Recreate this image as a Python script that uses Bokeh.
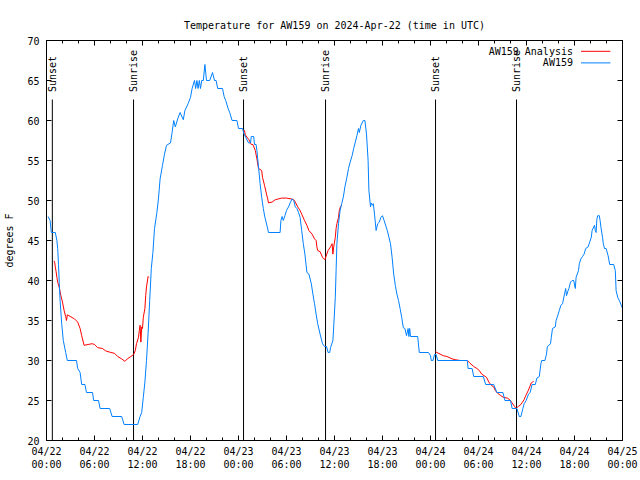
import math
from bokeh.plotting import figure
from bokeh.models import FixedTicker, LinearAxis, Range1d
from bokeh.core.properties import value
from bokeh.embed import file_html
from bokeh.resources import INLINE

# ---------------- data (hours since 2024-04-22 00:00 UTC, degrees F) ----------------
aw159_t = [0.2, 0.45, 0.6, 1.1, 1.3, 1.4, 1.5, 1.6, 1.7, 1.9, 2.1, 2.4, 2.6, 3.75, 3.9, 4.2, 4.4, 4.8,
           5.0, 5.75, 5.9, 6.5, 6.7, 7.9, 8.2, 9.4, 9.7, 11.4, 11.7, 11.9, 12.1, 12.3, 12.5, 12.7,
           12.9, 13.1, 13.3, 13.5, 13.8, 14.0, 14.2, 14.5, 14.75, 15.0, 15.5, 15.7, 15.9, 16.1,
           16.4, 16.7, 17.1, 17.3, 17.7, 18.0, 18.2, 18.5, 18.65, 18.8, 18.95, 19.1, 19.25, 19.4,
           19.6, 19.8, 20.0, 20.4, 20.75, 21.0, 21.2, 21.4, 22.0, 22.2, 22.4, 22.7, 22.9, 23.2,
           23.8, 24.0, 24.5, 24.7, 24.9, 25.25, 25.5, 25.6, 25.9, 26.0, 26.2, 26.3, 26.5, 26.7,
           26.9, 27.1, 27.3, 27.55, 27.75, 29.2, 29.3, 29.45, 29.6, 29.8, 30.0, 30.25, 30.5, 30.7,
           30.9, 31.1, 31.3, 31.5, 31.7, 31.9, 32.1, 32.3, 32.55, 32.8, 33.1, 33.3, 33.5, 33.7,
           33.9, 34.2, 34.5, 34.75, 35.0, 35.2, 35.4, 35.5, 35.8, 35.9, 36.1, 36.2, 36.3, 36.5,
           36.7, 36.9, 37.1, 37.3, 37.55, 37.75, 37.96, 38.2, 38.4, 38.6, 38.8, 39.0, 39.1, 39.3,
           39.6, 39.8, 40.0, 40.2, 40.3, 40.5, 40.6, 40.75, 40.85, 41.0, 41.2, 41.4, 41.6, 41.8,
           42.0, 42.2, 42.6, 43.0, 43.2, 43.4, 43.6, 43.8, 44.0, 44.2, 44.4, 44.6, 44.8, 45.0,
           45.2, 45.3, 45.4, 45.5, 46.4, 46.6, 47.75, 48.0, 48.1, 48.3, 48.5, 48.7, 48.9, 52.6,
           52.7, 53.2, 53.4, 54.6, 54.9, 55.9, 56.3, 57.05, 57.3, 58.0, 58.2, 58.8, 59.1, 59.3,
           59.55, 59.7, 59.96, 60.25, 60.46, 60.7, 61.1, 61.3, 61.6, 61.8, 61.9, 62.3, 62.5, 62.6,
           63.0, 63.1, 63.25, 63.6, 63.7, 63.9, 64.1, 64.3, 64.5, 64.75, 64.9, 65.0, 65.2, 65.3,
           65.5, 65.7, 65.9, 66.1, 66.2, 66.5, 66.6, 66.8, 67.0, 67.2, 67.4, 67.7, 67.9, 68.1,
           68.2, 68.5, 68.6, 68.7, 68.8, 68.9, 69.1, 69.2, 69.3, 69.5, 69.6, 69.75, 69.95, 70.2,
           70.4, 70.9, 71.1, 71.2, 71.4, 71.6, 71.85, 72.0]
aw159_v = [48, 47.5, 46, 46, 45, 44, 42, 39.6, 37.5, 34.6, 32.5, 31, 30, 30, 29, 28.5, 27, 27,
           26, 26, 25, 25, 24, 24, 23, 23, 22, 22, 23, 23.5, 25.4, 27.3, 30, 33.4,
           37.5, 41.5, 43.5, 46.5, 48.5, 50.3, 52.7, 54.4, 55.8, 56.9, 57.2, 58.5, 60, 59.2,
           60.2, 61, 60.1, 61.25, 62.1, 62.9, 64, 65, 64, 65, 64, 65, 64, 65,
           65, 67, 65, 65, 66, 65, 65, 64, 64, 63, 62.5, 61.5, 61, 60,
           60, 59, 59, 58.3, 57.9, 57.2, 57.2, 58, 58, 57, 57, 56.25, 54.2, 52.1,
           50.4, 49, 47.9, 46.9, 46, 46, 47.5, 48, 47.5, 48.1, 48.75, 49.2, 49.8, 50.2,
           50, 49.2, 49, 48.5, 47.9, 46.25, 44.6, 43.3, 41, 40.8, 39.6, 38.3, 37.1, 35.8,
           34.6, 33.3, 32.1, 31.75, 31.75, 31, 31, 31.6, 32.5, 34.2, 37.9, 41.25, 44.6, 47.1,
           48.75, 49.6, 50.4, 51.7, 52.9, 54, 54.8, 55.6, 56.5, 57.3, 58.1, 59, 58.5, 59.4,
           60, 60, 58.3, 55, 51.25, 49.2, 49.7, 49.4, 49.6, 48.3, 46.25, 47.1, 47.3, 47.9,
           48.1, 47.5, 46.25, 44.6, 42.9, 40.8, 39.4, 38.3, 37.5, 36.5, 35.4, 34.1, 34, 33.1,
           34, 33, 34, 33, 33, 31, 31, 30.6, 30, 30, 30.75, 30.75, 30, 30,
           29, 29, 28, 28, 27, 27, 26, 26, 25, 25, 24, 24, 23, 23,
           24, 24.6, 25, 25.8, 26, 27, 27, 27.8, 28, 29.6, 30, 30, 30.8, 31.7,
           32.1, 32.9, 34, 34.2, 35, 35.6, 36.25, 36.9, 37.1, 38.3, 39, 38.1, 38.75, 39,
           39.8, 40, 40, 39, 40.4, 41.25, 42.1, 42.7, 43, 43.3, 44, 44.2, 44.8, 45.4,
           46.25, 46.9, 46.25, 46, 47.7, 48.1, 48.1, 47.5, 46.7, 45.4, 44.6, 44, 44, 43.1,
           42, 42, 41.25, 38.75, 37.9, 37.5, 36.9, 36.5]

# AW159 Analysis: three night-time segments
ana1_t = [0.9, 1.0, 1.1, 1.2, 1.3, 1.4, 1.6, 1.8, 2.0, 2.2, 2.4, 2.5, 2.6, 2.8, 3.5, 3.9, 4.2,
          4.4, 4.7, 5.2, 5.7, 6.0, 6.4, 7.0, 7.4, 8.05, 8.5, 8.9, 9.4, 9.8, 10.1, 10.55, 10.9,
          11.1, 11.25, 11.5, 11.6, 11.7, 11.8, 11.9, 12.0, 12.1, 12.3, 12.4, 12.5, 12.7, 12.8]
ana1_v = [42.4, 42.4, 41.7, 41.1, 40.4, 39.8, 39.1, 38.1, 37.3, 36.25, 35.5, 35, 35.7, 35.6, 35.2,
          34.8, 34.0, 33.1, 31.9, 32.0, 32.1, 32.0, 31.6, 31.5, 31.2, 31.0, 30.9, 30.5, 30.2, 29.9,
          30.2, 30.5, 30.75, 31.25, 32.1, 32.9, 33.75, 34.4, 32.3, 34.2, 34.0, 35.4, 36.5, 38.1,
          39.2, 40.5, 40.4]
ana2_t = [24.6, 24.75, 24.85, 25.3, 25.6, 25.8, 26.1, 26.3, 26.5, 26.9, 27.0, 27.25, 27.5, 27.65,
          27.75, 28.2, 28.6, 29.4, 30.0, 30.6, 30.9, 31.1, 31.4, 31.7, 31.9, 32.25, 32.55, 32.8,
          33.2, 33.5, 33.7, 33.8, 33.9, 34.2, 34.5, 34.8, 35.0, 35.2, 35.5, 35.7, 35.8, 35.9,
          36.0, 36.1, 36.2, 36.3, 36.5, 36.6, 36.75, 36.9]
ana2_v = [58.75, 58.75, 58.2, 57.6, 57, 57, 56.25, 55.2, 54, 53.75, 52.9, 51.9, 50.8, 50.2,
          49.7, 49.8, 50.1, 50.3, 50.3, 50.2, 50.1, 49.8, 49.2, 48.75, 48.3, 47.5, 46.9, 46.25,
          45.8, 45.2, 45, 44.2, 43.75, 43.6, 42.9, 42.6, 43.2, 43.75, 44.2, 44.6, 43.3, 44.2,
          44.8, 45.4, 46.5, 47.1, 47.9, 48.75, 49.25, 49.4]
ana3_t = [48.6, 48.8, 49.2, 49.6, 50.05, 50.7, 51.1, 51.7, 52.6, 52.9, 53.4, 53.8, 54.1, 54.4,
          54.7, 55.0, 55.3, 55.6, 55.9, 56.1, 56.4, 56.8, 57.1, 57.6, 57.9, 58.2, 58.5, 58.7,
          59.0, 59.2, 59.5, 59.7, 59.9, 60.2, 60.4, 60.6, 60.9]
ana3_v = [31.1, 31.0, 30.8, 30.6, 30.5, 30.2, 30.1, 30, 30, 29.7, 29.25, 29.0, 28.75, 28.3,
          28.1, 27.9, 27.3, 26.9, 26.7, 26.25, 25.9, 25.6, 25.4, 25.3, 25.1, 24.7, 24.25, 24,
          24.3, 24.4, 24.8, 25.1, 25.6, 26.2, 26.7, 27.2, 27.4]

sun_t = [0.73, 10.88, 24.63, 34.88, 48.63, 58.75]
sun_labels = ["Sunset", "Sunrise", "Sunset", "Sunrise", "Sunset", "Sunrise"]

x_tick_hours = [0, 6, 12, 18, 24, 30, 36, 42, 48, 54, 60, 66, 72]
x_tick_labels = ["04/22\n00:00", "04/22\n06:00", "04/22\n12:00", "04/22\n18:00",
                 "04/23\n00:00", "04/23\n06:00", "04/23\n12:00", "04/23\n18:00",
                 "04/24\n00:00", "04/24\n06:00", "04/24\n12:00", "04/24\n18:00",
                 "04/25\n00:00"]
y_ticks = [20, 25, 30, 35, 40, 45, 50, 55, 60, 65, 70]

series_names = ["AW159 Analysis", "AW159"]
series_colors = ["#ff0000", "#0080ff"]

# ---------------- figure ----------------
FONT = "DejaVu Sans Mono"
X0, X1, Y0, Y1 = 0, 72, 20, 70

p = figure(frame_width=576, frame_height=400,
           x_range=Range1d(X0, X1), y_range=Range1d(Y0, Y1),
           output_backend="svg", toolbar_location=None,
           min_border_left=46, min_border_right=18, min_border_top=40, min_border_bottom=38,
           title="Temperature for AW159 on 2024-Apr-22 (time in UTC)")
p.background_fill_color = "white"
p.border_fill_color = "white"
p.outline_line_color = "black"
p.outline_line_width = 1
p.grid.visible = False

p.title.align = "center"
p.title.text_font = FONT
p.title.text_font_size = "10px"
p.title.text_font_style = "normal"
p.title.text_color = "black"
p.title.standoff = 19

xticker = FixedTicker(ticks=x_tick_hours, minor_ticks=list(range(0, 73, 2)))
yticker = FixedTicker(ticks=y_ticks, minor_ticks=[])

p.xaxis.ticker = xticker
p.yaxis.ticker = yticker
p.xaxis.major_label_overrides = {h: lab for h, lab in zip(x_tick_hours, x_tick_labels)}
p.yaxis.axis_label = "degrees F"

top_axis = LinearAxis(ticker=xticker, major_label_overrides={h: "" for h in x_tick_hours})
right_axis = LinearAxis(ticker=yticker, major_label_overrides={v: "" for v in y_ticks})
p.add_layout(top_axis, "above")
p.add_layout(right_axis, "right")

for ax in p.axis:
    ax.major_tick_in = 5
    ax.major_tick_out = 0
    ax.minor_tick_in = 3
    ax.minor_tick_out = 0
    ax.axis_line_color = "black"
    ax.major_tick_line_color = "black"
    ax.minor_tick_line_color = "black"
    ax.major_label_text_font = FONT
    ax.major_label_text_font_size = "10px"
    ax.major_label_text_color = "black"
    ax.axis_label_text_font = FONT
    ax.axis_label_text_font_size = "10px"
    ax.axis_label_text_font_style = "normal"
    ax.axis_label_text_color = "black"

p.xaxis[0].major_label_standoff = 12
p.yaxis[0].major_label_standoff = 7
p.yaxis[0].axis_label_standoff = 9
for ax in (top_axis, right_axis):
    ax.major_label_standoff = 0

# sunrise / sunset markers
line_top = Y0 + 0.8525 * (Y1 - Y0)
label_y = Y0 + 0.871 * (Y1 - Y0)
p.segment(x0=sun_t, y0=[Y0] * len(sun_t), x1=sun_t, y1=[line_top] * len(sun_t),
          line_color="black", line_width=1)
p.text(x=sun_t, y=[label_y] * len(sun_t), text=sun_labels, angle=math.pi / 2,
       text_align="left", text_baseline="middle", text_font=value(FONT),
       text_font_size="10px", text_color="black")

# series
for t, v in ((ana1_t, ana1_v), (ana2_t, ana2_v), (ana3_t, ana3_v)):
    p.line(t, v, line_color=series_colors[0], line_width=1)
p.line(aw159_t, aw159_v, line_color=series_colors[1], line_width=1)

# key (gnuplot style: text, then sample line)
key_text_x = X0 + 0.914 * (X1 - X0)
key_s0 = X0 + 0.928 * (X1 - X0)
key_s1 = X0 + 0.979 * (X1 - X0)
key_rows = [Y0 + 0.973 * (Y1 - Y0), Y0 + 0.944 * (Y1 - Y0)]
p.text(x=[key_text_x] * 2, y=key_rows, text=series_names, text_align="right",
       text_baseline="middle", text_font=value(FONT), text_font_size="10px",
       text_color="black")
p.segment(x0=[key_s0] * 2, y0=key_rows, x1=[key_s1] * 2, y1=key_rows,
          line_color=series_colors, line_width=1)

open("out.html", "w").write(file_html(p, INLINE))
